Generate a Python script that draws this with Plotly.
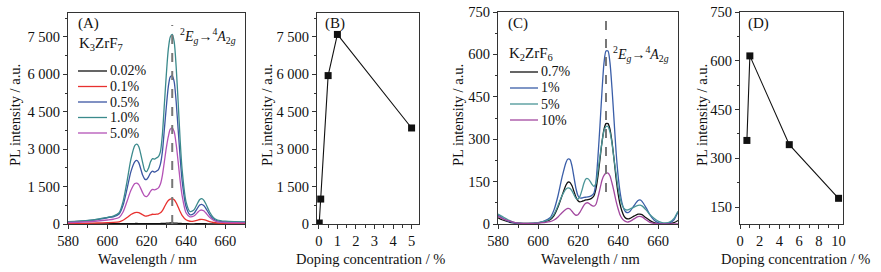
import plotly.graph_objects as go

W, H = 881, 272
FONT = "Liberation Serif, Times New Roman, serif"

# ---------------- data ----------------
# Panel A: K3ZrF7 spectra
wl_A = [580, 585, 590, 595, 600, 603, 606, 608, 610, 612, 614, 615, 616, 618, 619, 620,
        621, 622, 623, 624, 625, 626, 627, 628, 629, 630, 631, 632, 633, 634, 635, 636,
        637, 638, 640, 642, 644, 646, 647, 648, 649, 650, 652, 654, 656, 660, 665, 670]
A_002 = [5, 6, 7, 8, 9, 10, 11, 12, 14, 16, 19, 20, 19, 17, 16, 16,
         16, 17, 17, 17, 17, 18, 19, 21, 26, 32, 37, 40, 40, 38, 34, 28,
         22, 17, 12, 9, 9, 10, 11, 11, 11, 10, 8, 7, 6, 5, 5, 5]
A_01 = [20, 25, 30, 40, 55, 65, 90, 150, 260, 380, 460, 470, 455, 370, 330, 320,
        340, 370, 390, 385, 395, 410, 450, 540, 680, 830, 940, 1000, 1005, 970, 850, 680,
        500, 350, 170, 110, 115, 160, 180, 185, 175, 155, 100, 60, 40, 25, 20, 18]
A_05 = [85, 100, 130, 180, 250, 290, 400, 750, 1400, 2100, 2500, 2550, 2450, 1950, 1800, 1790,
        1900, 2050, 2120, 2080, 2120, 2180, 2400, 2900, 3800, 4700, 5500, 5900, 5950, 5700, 4900, 3800,
        2700, 1750, 700, 370, 420, 660, 760, 790, 740, 640, 380, 200, 130, 90, 75, 70]
A_10 = [90, 110, 140, 190, 270, 320, 450, 900, 1700, 2600, 3150, 3200, 3100, 2450, 2150, 2100,
        2250, 2500, 2620, 2600, 2650, 2700, 2900, 3600, 4800, 6000, 7000, 7500, 7600, 7300, 6300, 4900,
        3400, 2200, 900, 500, 560, 850, 980, 1020, 960, 820, 480, 250, 160, 110, 90, 80]
A_50 = [60, 70, 90, 120, 160, 190, 260, 480, 900, 1350, 1620, 1640, 1580, 1250, 1120, 1100,
        1180, 1320, 1390, 1370, 1400, 1450, 1600, 1950, 2500, 3050, 3500, 3800, 3850, 3700, 3200, 2500,
        1750, 1150, 450, 290, 320, 470, 540, 560, 530, 450, 270, 150, 90, 60, 50, 45]
series_A = [("0.02%", A_002, "#111111"), ("0.1%", A_01, "#e8312f"), ("0.5%", A_05, "#3b56a2"),
            ("1.0%", A_10, "#3b8a8c"), ("5.0%", A_50, "#b452b6")]

# Panel B
conc_B = [0.02, 0.1, 0.5, 1.0, 5.0]
int_B = [40, 1000, 5950, 7600, 3850]

# Panel C: K2ZrF6 spectra
wl_C = [580, 582, 585, 588, 590, 595, 600, 603, 606, 608, 610, 612, 614, 615, 616, 617, 618, 619,
        620, 621, 622, 623, 624, 625, 626, 627, 628, 629, 630, 631, 632, 633, 634, 635, 636, 637,
        638, 639, 640, 641, 642, 643, 644, 645, 646, 648, 650, 651, 652, 654, 656, 658, 660, 662,
        664, 666, 668, 669, 670]
C_07 = [22, 15, 8, 4, 3, 2, 4, 8, 15, 30, 60, 100, 138, 148, 147, 135, 115, 95,
        82, 78, 80, 83, 85, 86, 88, 92, 100, 125, 170, 230, 290, 335, 355, 355, 335, 290,
        230, 165, 110, 70, 45, 28, 20, 18, 20, 28, 35, 35, 33, 22, 12, 5, 2, 1,
        1, 2, 5, 8, 12]
C_1 = [32, 22, 10, 4, 2, 1, 4, 10, 22, 50, 100, 165, 218, 230, 228, 205, 165, 125,
       100, 92, 92, 94, 95, 96, 98, 102, 110, 150, 240, 350, 470, 570, 612, 612, 570, 480,
       370, 260, 175, 115, 75, 52, 42, 40, 45, 65, 83, 85, 80, 58, 32, 14, 5, 2,
       2, 5, 15, 28, 42]
C_5 = [35, 27, 15, 6, 4, 2, 5, 9, 18, 35, 65, 100, 124, 128, 126, 117, 103, 90,
       88, 98, 120, 145, 160, 160, 152, 140, 133, 145, 190, 240, 290, 330, 345, 345, 325, 285,
       230, 180, 130, 92, 68, 55, 50, 50, 53, 60, 66, 67, 64, 50, 33, 20, 10, 5,
       4, 8, 20, 32, 45]
C_10 = [27, 20, 12, 6, 3, 2, 3, 5, 8, 14, 25, 40, 52, 55, 53, 45, 36, 31,
        33, 42, 55, 67, 74, 75, 70, 65, 63, 70, 95, 125, 155, 172, 180, 180, 170, 145,
        115, 82, 55, 33, 20, 12, 8, 7, 9, 18, 26, 27, 25, 15, 6, 2, 1, 0,
        0, 0, 0, 0, 0]
series_C = [("0.7%", C_07, "#111111"), ("1%", C_1, "#3a5ea8"), ("5%", C_5, "#4a9597"),
            ("10%", C_10, "#a2489f")]

# Panel D
conc_D = [0.7, 1, 5, 10]
int_D = [355, 615, 342, 177]

# tick labels
yt_A = [0, 1500, 3000, 4500, 6000, 7500]
yt_A_text = ["0", "1 500", "3 000", "4 500", "6 000", "7 500"]
xt_wl = [580, 600, 620, 640, 660]
xt_B = [0, 1, 2, 3, 4, 5]
yt_C = [0, 150, 300, 450, 600, 750]
xt_D = [0, 2, 4, 6, 8, 10]
yt_D = [150, 300, 450, 600, 750]

PEAK_A = 633
PEAK_C = 634

# ---------------- helpers ----------------
def px(x):
    return x / W

def py(y):
    return 1 - y / H

fig = go.Figure()

for name, vals, col in series_A:
    fig.add_trace(go.Scatter(x=wl_A, y=vals, mode="lines", name=name, showlegend=False,
                             line=dict(color=col, width=1.3, shape="spline", smoothing=0.7),
                             xaxis="x", yaxis="y"))
fig.add_trace(go.Scatter(x=conc_B, y=int_B, mode="lines+markers", showlegend=False,
                         line=dict(color="#111111", width=1.1),
                         marker=dict(symbol="square", size=7, color="#111111"),
                         xaxis="x2", yaxis="y2"))
for name, vals, col in series_C:
    fig.add_trace(go.Scatter(x=wl_C, y=vals, mode="lines", name=name, showlegend=False,
                             line=dict(color=col, width=1.3, shape="spline", smoothing=0.7),
                             xaxis="x3", yaxis="y3"))
fig.add_trace(go.Scatter(x=conc_D, y=int_D, mode="lines+markers", showlegend=False,
                         line=dict(color="#111111", width=1.1),
                         marker=dict(symbol="square", size=7, color="#111111"),
                         xaxis="x4", yaxis="y4"))

AX = dict(showline=True, mirror=True, linecolor="#333333", linewidth=1, showgrid=False,
          zeroline=False, ticks="outside", ticklen=4, tickwidth=1, tickcolor="#333333",
          automargin=False,
          tickfont=dict(family=FONT, size=14.5, color="#111111"))

def minor(d):
    return dict(ticks="outside", ticklen=2.5, dtick=d, tickcolor="#333333", showgrid=False)

yd = [py(224), py(13)]
yd2 = [py(224), py(12)]
fig.update_layout(
    template="none",
    xaxis=dict(AX, domain=[px(68), px(245)], range=[580, 670], tickvals=xt_wl, minor=minor(10), anchor="y"),
    yaxis=dict(AX, domain=yd, range=[0, 8460], tickvals=yt_A, ticktext=yt_A_text, minor=minor(750), anchor="x"),
    xaxis2=dict(AX, domain=[px(317), px(419)], range=[-0.1, 5.4], tickvals=xt_B, minor=minor(0.5), anchor="y2"),
    yaxis2=dict(AX, domain=yd, range=[0, 8460], tickvals=yt_A, ticktext=yt_A_text, minor=minor(750), anchor="x2"),
    xaxis3=dict(AX, domain=[px(498), px(678)], range=[580, 670], tickvals=xt_wl, minor=minor(10), anchor="y3"),
    yaxis3=dict(AX, domain=yd2, range=[0, 750], tickvals=yt_C, minor=minor(75), anchor="x3"),
    xaxis4=dict(AX, domain=[px(740), px(843)], range=[0, 10.45], tickvals=xt_D, minor=minor(1), anchor="y4"),
    yaxis4=dict(AX, domain=yd2, range=[98, 750], tickvals=yt_D, minor=minor(75), anchor="x4"),
)

# dashed guide lines at the emission peak
fig.add_shape(type="line", xref="x", yref="y", x0=PEAK_A, x1=PEAK_A, y0=0, y1=7980,
              line=dict(color="#777777", width=2, dash="dash"))
fig.add_shape(type="line", xref="x3", yref="y3", x0=PEAK_C, x1=PEAK_C, y0=113, y1=740,
              line=dict(color="#777777", width=2, dash="dash"))

ann = []
def text(x, y, s, size=15, xanchor="left", angle=0):
    ann.append(dict(x=px(x), y=py(y), xref="paper", yref="paper", text=s, showarrow=False,
                    xanchor=xanchor, yanchor="middle", textangle=angle,
                    font=dict(family=FONT, size=size, color="#111111")))

# axis titles
for cx in (147, 590):
    text(cx, 259, "Wavelength / nm", 14.5, "center")
for cx in (370, 795):
    text(cx, 259, "Doping concentration / %", 14.5, "center")
for cx in (15, 267, 458, 702):
    text(cx, 115, "PL intensity / a.u.", 14.5, "center", -90)

# panel labels
trans = "<sup>2</sup><i>E</i><sub><i>g</i></sub>→<sup>4</sup><i>A</i><sub>2<i>g</i></sub>"
text(76, 23, "(A)", 15)
text(77, 44, "K<sub>3</sub>ZrF<sub>7</sub>", 15)
text(178, 36, trans, 14)
text(323, 23, "(B)", 15)
text(506, 23, "(C)", 15)
text(507, 54, "K<sub>2</sub>ZrF<sub>6</sub>", 15)
text(611, 54, trans, 14)
text(746, 23, "(D)", 15)

# legends
for i, (name, vals, col) in enumerate(series_A):
    y = 71 + 15.5 * i
    fig.add_shape(type="line", xref="paper", yref="paper", x0=px(78), x1=px(107), y0=py(y), y1=py(y),
                  line=dict(color=col, width=1.3))
    text(108, y, name, 14)
for i, (name, vals, col) in enumerate(series_C):
    y = 72 + 16 * i
    fig.add_shape(type="line", xref="paper", yref="paper", x0=px(510), x1=px(538), y0=py(y), y1=py(y),
                  line=dict(color=col, width=1.3))
    text(539, y, name, 14)

fig.update_layout(annotations=ann, width=W, height=H, margin=dict(l=0, r=0, t=0, b=0, pad=0),
                  paper_bgcolor="white", plot_bgcolor="white", showlegend=False,
                  font=dict(family=FONT, size=15, color="#111111"))

fig.write_html("out.html", config={"displayModeBar": False},
               post_script="document.body.style.margin='0px';document.body.style.overflow='hidden';")
